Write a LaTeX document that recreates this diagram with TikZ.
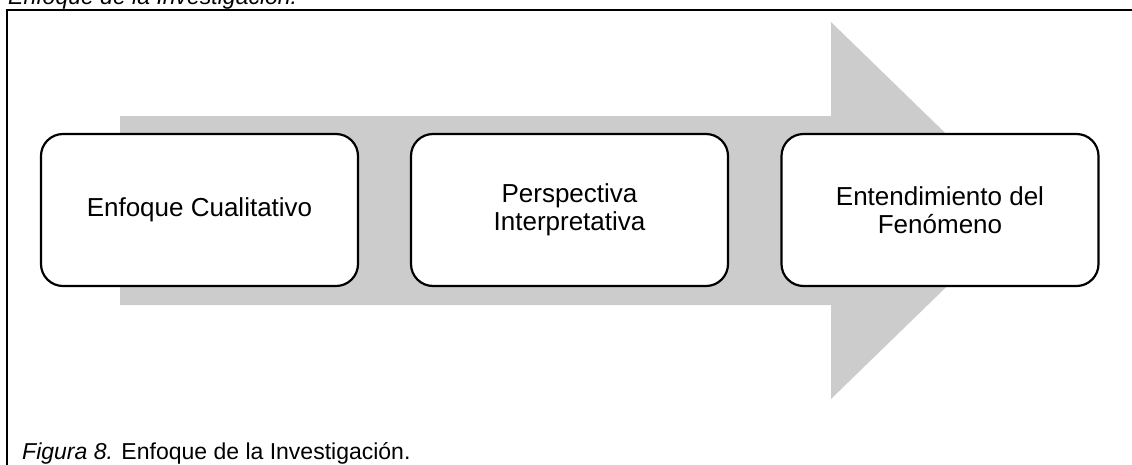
\documentclass[tikz,border=0pt]{standalone}
\usepackage{fontspec}
\setmainfont{Liberation Sans}
\definecolor{arrowgray}{RGB}{204,204,204}
\begin{document}
\begin{tikzpicture}[x=1pt,y=-1pt,
  stagebox/.style={draw=black, line width=2.2pt, fill=white, rounded corners=22pt,
    minimum width=317pt, minimum height=152pt, align=center, inner sep=0pt,
    font=\fontsize{26}{28}\selectfont},
  captext/.style={anchor=base west, inner sep=0pt, font=\fontsize{23}{26}\selectfont}]
\useasboundingbox (0,0) rectangle (1132,464);
% frame (only top and left visible)
\draw[line width=2pt] (7,480) -- (7,10) -- (1150,10);
% big grey arrow
\fill[arrowgray] (120,116) -- (831,116) -- (831,22) -- (1025,210.5) -- (831,399) -- (831,305) -- (120,305) -- cycle;
% stages
\node[stagebox] (b1) at (199.5,210) {Enfoque Cualitativo};
\node[stagebox] (b2) at (569.5,210) {Perspectiva\\Interpretativa};
\node[stagebox] (b3) at (940,210) {Entendimiento del\\Fenómeno};
% texts
\node[captext] (title) at (8,4) {\textit{Enfoque de la Investigación.}};
\node[captext] (cap) at (22,459) {\textit{Figura 8.} Enfoque de la Investigación.};
\end{tikzpicture}
\end{document}
